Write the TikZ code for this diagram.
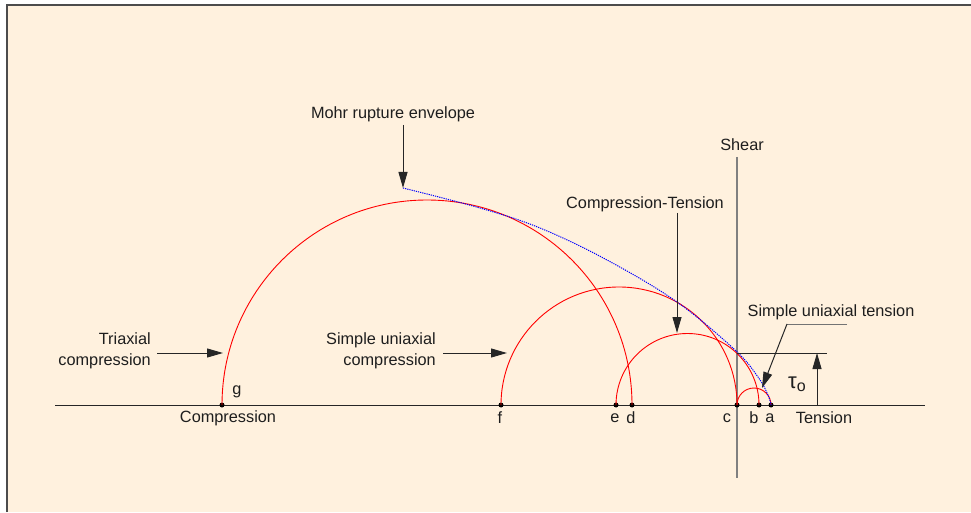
\documentclass[tikz,border=0pt]{standalone}
\usepackage{fontspec}
\setmainfont{Liberation Sans}
\usetikzlibrary{arrows.meta}
\definecolor{bgcream}{RGB}{255,241,222}
\definecolor{txt}{RGB}{30,30,30}
\tikzset{
  lbl/.style={inner sep=0pt, text=txt, font=\fontsize{16.3}{21}\selectfont},
  dot/.style={circle, fill=black, inner sep=0pt, minimum size=5pt},
  mohrarc/.style={red, line width=0.9pt},
  envline/.style={blue, dash pattern=on 1.2pt off 1pt, line width=1pt},
  pointer/.style={black!85, line width=1pt, -{Triangle[length=16pt,width=9pt]}},
  axisline/.style={black!85, line width=1pt},
}
\begin{document}
\begin{tikzpicture}[x=1pt,y=1pt]
\useasboundingbox (0,0) rectangle (971,512);
\fill[bgcream] (7,0) rectangle (971,507);
\draw[black!70, line width=2pt] (7,0) -- (7,507) -- (971,507);

% axes
\coordinate (axl) at (55,107);
\coordinate (axr) at (925,107);
\draw[axisline] (axl) -- (axr);
\coordinate (shtop) at (737,355);
\coordinate (shbot) at (737,34);
\draw[black!50, line width=1.2pt] (shtop) -- (shbot);
\node[lbl] (shear) at (742,367) {Shear};

% points on axis
\node[dot] (g) at (222,107) {};
\node[dot] (f) at (501,107) {};
\node[dot] (e) at (616,107) {};
\node[dot] (d) at (632,107) {};
\node[dot] (c) at (737,107) {};
\node[dot] (b) at (759,107) {};
\node[dot] (a) at (771,107) {};

% Mohr circles
\draw[mohrarc] (d.center) arc[start angle=0, end angle=180, radius=205pt];
\draw[mohrarc] (c.center) arc[start angle=0, end angle=180, radius=118pt];
\draw[mohrarc] (b.center) arc[start angle=0, end angle=180, radius=71.5pt];
\draw[mohrarc] (a.center) arc[start angle=0, end angle=180, radius=17pt];

% envelope
\coordinate (envtop) at (403,324);
\draw[envline] plot[smooth, tension=0.6] coordinates {(403,324) (480,304) (540,284) (607,252) (677,210) (735,162) (758,135) (768,117) (771,107)};

% point labels
\node[lbl] (lg) at (237,120) {g};
\node[lbl] (lcomp) at (228,94) {Compression};
\node[lbl] (lf) at (500,94) {f};
\node[lbl] (le) at (615,94) {e};
\node[lbl] (ld) at (631,94) {d};
\node[lbl] (lc) at (727,94) {c};
\node[lbl] (lb) at (754,94) {b};
\node[lbl] (la) at (770,94) {a};
\node[lbl] (ltens) at (824,94) {Tension};

% Mohr rupture envelope
\node[lbl] (mohr) at (393,398) {Mohr rupture envelope};
\coordinate (m1) at (403,387);
\draw[pointer] (m1) -- (envtop);

% Compression-Tension
\node[lbl] (ct) at (645,308) {Compression-Tension};
\coordinate (ct1) at (677,299);
\coordinate (ct2) at (677,179);
\draw[pointer] (ct1) -- (ct2);

% Simple uniaxial tension
\node[lbl] (sut) at (831,200) {Simple uniaxial tension};
\coordinate (sut1) at (847,188);
\coordinate (sut2) at (787,188);
\coordinate (sut3) at (762,124);
\draw[black!55, line width=1pt] (sut1) -- (sut2);
\draw[pointer] (sut2) -- (sut3);

% tau_0
\coordinate (t1) at (737,159);
\coordinate (t2) at (827,159);
\draw[axisline] (t1) -- (t2);
\coordinate (t3) at (817,107);
\coordinate (t4) at (817,159);
\draw[pointer] (t3) -- (t4);
\node[lbl, font=\fontsize{22}{24}\selectfont] (tau) at (797,128) {τ\raisebox{-0.15em}{\fontsize{16}{18}\selectfont o}};

% Triaxial compression
\node[lbl, align=right, anchor=east] (tri) at (151,161.5) {Triaxial\\compression};
\coordinate (tr1) at (157,159);
\coordinate (tr2) at (223,159);
\draw[pointer] (tr1) -- (tr2);

% Simple uniaxial compression
\node[lbl, align=right, anchor=east] (suc) at (436,161.5) {Simple uniaxial\\compression};
\coordinate (sc1) at (443,159);
\coordinate (sc2) at (507,159);
\draw[pointer] (sc1) -- (sc2);
\end{tikzpicture}
\end{document}
